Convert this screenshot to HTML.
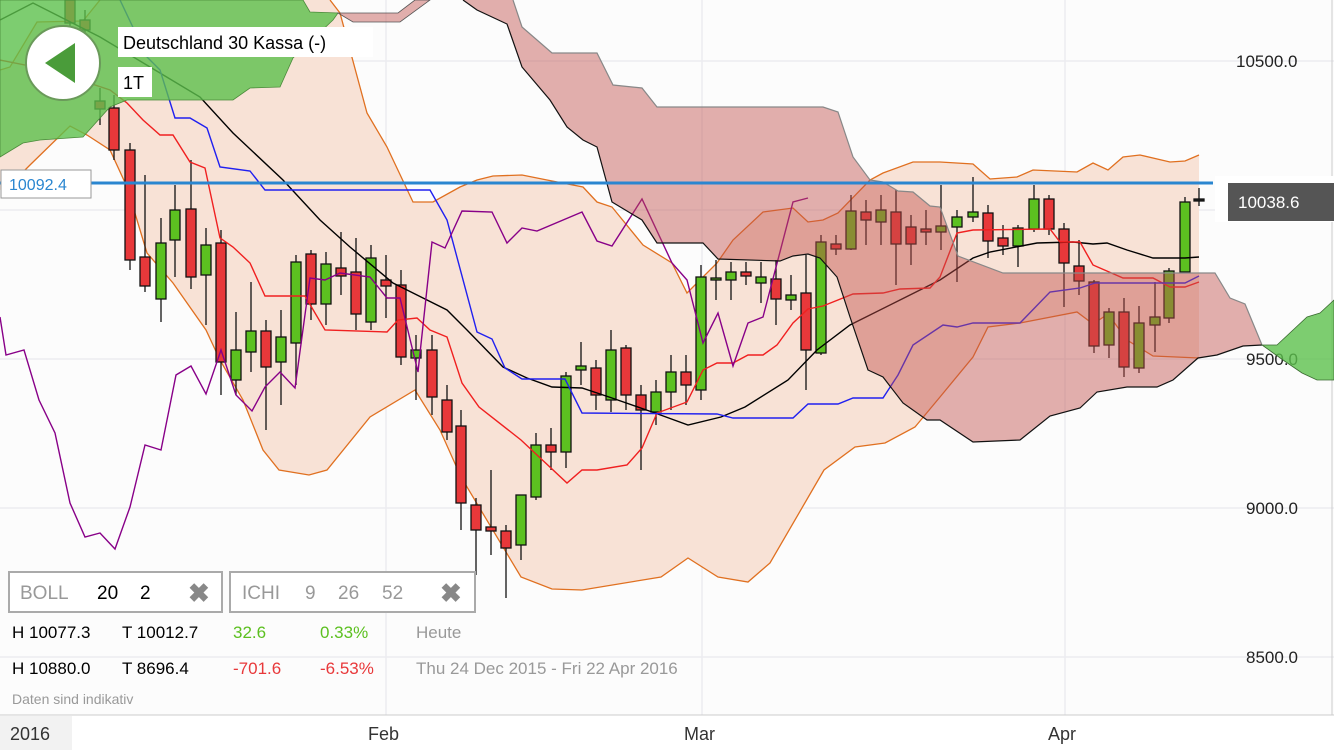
<!DOCTYPE html>
<html><head><meta charset="utf-8"><style>
body{margin:0;background:#fff;font-family:"Liberation Sans",sans-serif}
svg{display:block}
text{font-family:"Liberation Sans",sans-serif}
</style></head><body>
<svg width="1334" height="750" viewBox="0 0 1334 750">
<rect width="1334" height="750" fill="#fcfcfc"/>
<g stroke="#ececf0" stroke-width="1.5">
<line x1="0" y1="61" x2="1334" y2="61"/><line x1="0" y1="210" x2="1334" y2="210"/><line x1="0" y1="359" x2="1334" y2="359"/><line x1="0" y1="508" x2="1334" y2="508"/><line x1="0" y1="657" x2="1334" y2="657"/>
<line x1="386" y1="0" x2="386" y2="715"/><line x1="702" y1="0" x2="702" y2="715"/><line x1="1065" y1="0" x2="1065" y2="715"/>
</g>
<!-- bollinger -->
<polygon fill="#f8e2d6" points="0,70 10,67 37,22 83,21 100,0 330,0 340,13 367,113 387,147 413,202 433,202 460,187 477,180 493,176 522,175 547,180 583,187 597,202 612,207 643,245 672,263 687,293 717,263 733,240 763,212 793,208 808,222 823,220 838,213 870,180 883,173 913,162 940,162 973,164 990,179 1017,177 1033,170 1077,172 1093,163 1108,170 1123,157 1140,155 1170,162 1185,161 1199,155 1199,358 1153,356 1127,340 1108,314 1093,324 1077,312 1020,323 988,327 973,357 940,397 915,427 885,443 855,447 824,470 770,563 748,582 718,577 688,558 661,577 582,590 552,589 521,577 461,477 440,430 415,390 370,417 327,470 309,475 279,470 263,450 243,400 220,360 206,330 173,283 147,253 127,187 110,150 87,135 70,126 30,165 10,185 0,190"/>
<g fill="none" stroke="#e07020" stroke-width="1.3">
<polyline points="0,70 10,67 37,22 83,21 100,0"/>
<polyline points="330,0 340,13 367,113 387,147 413,202 433,202 460,187 477,180 493,176 522,175 547,180 583,187 597,202 612,207 643,245 672,263 687,293 717,263 733,240 763,212 793,208 808,222 823,220 838,213 870,180 883,173 913,162 940,162 973,164 990,179 1017,177 1033,170 1077,172 1093,163 1108,170 1123,157 1140,155 1170,162 1185,161 1199,155"/>
<polyline points="10,185 30,165 70,126 87,135 110,150 127,187 147,253 173,283 206,330 220,360 243,400 263,450 279,470 309,475 327,470 370,417 415,390 440,430 461,477 521,577 552,589 582,590 661,577 688,558 718,577 748,582 770,563 824,470 855,447 885,443 915,427 940,397 973,357 988,327 1020,323 1077,312 1093,324 1108,314 1127,340 1153,356 1199,358"/>
</g>
<!-- candles -->
<g stroke="#111" stroke-width="1.3">
<line x1="70" x2="70" y1="0" y2="40"/><rect x="65" y="0" width="10" height="23" fill="#e8383a"/>
<line x1="85" x2="85" y1="10" y2="45"/><rect x="80" y="20" width="10" height="10" fill="#e8383a"/>
<line x1="100" x2="100" y1="88" y2="125"/><rect x="95" y="101" width="10" height="8" fill="#e8383a"/>
<line x1="114" x2="114" y1="95" y2="160"/><rect x="109" y="108" width="10" height="42" fill="#e8383a"/>
<line x1="130" x2="130" y1="143" y2="270"/><rect x="125" y="150" width="10" height="110" fill="#e8383a"/>
<line x1="145" x2="145" y1="175" y2="292"/><rect x="140" y="257" width="10" height="29" fill="#e8383a"/>
<line x1="161" x2="161" y1="218" y2="322"/><rect x="156" y="243" width="10" height="56" fill="#5cc020"/>
<line x1="175" x2="175" y1="185" y2="277"/><rect x="170" y="210" width="10" height="30" fill="#5cc020"/>
<line x1="191" x2="191" y1="160" y2="289"/><rect x="186" y="209" width="10" height="68" fill="#e8383a"/>
<line x1="206" x2="206" y1="228" y2="325"/><rect x="201" y="245" width="10" height="30" fill="#5cc020"/>
<line x1="221" x2="221" y1="230" y2="395"/><rect x="216" y="243" width="10" height="119" fill="#e8383a"/>
<line x1="236" x2="236" y1="312" y2="395"/><rect x="231" y="350" width="10" height="30" fill="#5cc020"/>
<line x1="251" x2="251" y1="282" y2="372"/><rect x="246" y="331" width="10" height="21" fill="#5cc020"/>
<line x1="266" x2="266" y1="320" y2="430"/><rect x="261" y="331" width="10" height="36" fill="#e8383a"/>
<line x1="281" x2="281" y1="310" y2="405"/><rect x="276" y="337" width="10" height="25" fill="#5cc020"/>
<line x1="296" x2="296" y1="255" y2="385"/><rect x="291" y="262" width="10" height="81" fill="#5cc020"/>
<line x1="311" x2="311" y1="250" y2="320"/><rect x="306" y="254" width="10" height="50" fill="#e8383a"/>
<line x1="326" x2="326" y1="252" y2="325"/><rect x="321" y="264" width="10" height="40" fill="#5cc020"/>
<line x1="341" x2="341" y1="232" y2="295"/><rect x="336" y="268" width="10" height="8" fill="#e8383a"/>
<line x1="356" x2="356" y1="238" y2="330"/><rect x="351" y="272" width="10" height="42" fill="#e8383a"/>
<line x1="371" x2="371" y1="245" y2="330"/><rect x="366" y="258" width="10" height="64" fill="#5cc020"/>
<line x1="386" x2="386" y1="255" y2="318"/><rect x="381" y="280" width="10" height="6" fill="#e8383a"/>
<line x1="401" x2="401" y1="270" y2="365"/><rect x="396" y="285" width="10" height="72" fill="#e8383a"/>
<line x1="416" x2="416" y1="335" y2="400"/><rect x="411" y="350" width="10" height="8" fill="#5cc020"/>
<line x1="432" x2="432" y1="335" y2="415"/><rect x="427" y="350" width="10" height="47" fill="#e8383a"/>
<line x1="447" x2="447" y1="385" y2="440"/><rect x="442" y="400" width="10" height="32" fill="#e8383a"/>
<line x1="461" x2="461" y1="410" y2="530"/><rect x="456" y="426" width="10" height="77" fill="#e8383a"/>
<line x1="476" x2="476" y1="498" y2="575"/><rect x="471" y="505" width="10" height="25" fill="#e8383a"/>
<line x1="491" x2="491" y1="470" y2="555"/><rect x="486" y="527" width="10" height="4" fill="#e8383a"/>
<line x1="506" x2="506" y1="525" y2="598"/><rect x="501" y="531" width="10" height="17" fill="#e8383a"/>
<line x1="521" x2="521" y1="508" y2="560"/><rect x="516" y="495" width="10" height="50" fill="#5cc020"/>
<line x1="536" x2="536" y1="433" y2="500"/><rect x="531" y="445" width="10" height="52" fill="#5cc020"/>
<line x1="551" x2="551" y1="428" y2="470"/><rect x="546" y="445" width="10" height="7" fill="#e8383a"/>
<line x1="566" x2="566" y1="372" y2="468"/><rect x="561" y="376" width="10" height="76" fill="#5cc020"/>
<line x1="581" x2="581" y1="342" y2="385"/><rect x="576" y="366" width="10" height="4" fill="#5cc020"/>
<line x1="596" x2="596" y1="360" y2="410"/><rect x="591" y="368" width="10" height="27" fill="#e8383a"/>
<line x1="611" x2="611" y1="330" y2="412"/><rect x="606" y="350" width="10" height="50" fill="#5cc020"/>
<line x1="626" x2="626" y1="345" y2="410"/><rect x="621" y="348" width="10" height="47" fill="#e8383a"/>
<line x1="641" x2="641" y1="385" y2="470"/><rect x="636" y="395" width="10" height="15" fill="#e8383a"/>
<line x1="656" x2="656" y1="380" y2="425"/><rect x="651" y="392" width="10" height="20" fill="#5cc020"/>
<line x1="671" x2="671" y1="355" y2="410"/><rect x="666" y="372" width="10" height="20" fill="#5cc020"/>
<line x1="686" x2="686" y1="355" y2="405"/><rect x="681" y="372" width="10" height="13" fill="#e8383a"/>
<line x1="701" x2="701" y1="265" y2="400"/><rect x="696" y="277" width="10" height="113" fill="#5cc020"/>
<line x1="716" x2="716" y1="260" y2="300"/><rect x="711" y="278" width="10" height="2" fill="#5cc020"/>
<line x1="731" x2="731" y1="262" y2="300"/><rect x="726" y="272" width="10" height="8" fill="#5cc020"/>
<line x1="746" x2="746" y1="262" y2="285"/><rect x="741" y="272" width="10" height="4" fill="#e8383a"/>
<line x1="761" x2="761" y1="262" y2="303"/><rect x="756" y="277" width="10" height="6" fill="#5cc020"/>
<line x1="776" x2="776" y1="260" y2="325"/><rect x="771" y="279" width="10" height="20" fill="#e8383a"/>
<line x1="791" x2="791" y1="275" y2="310"/><rect x="786" y="295" width="10" height="5" fill="#5cc020"/>
<line x1="806" x2="806" y1="255" y2="390"/><rect x="801" y="293" width="10" height="57" fill="#e8383a"/>
<line x1="821" x2="821" y1="235" y2="355"/><rect x="816" y="242" width="10" height="111" fill="#5cc020"/>
<line x1="836" x2="836" y1="235" y2="255"/><rect x="831" y="244" width="10" height="5" fill="#e8383a"/>
<line x1="851" x2="851" y1="195" y2="250"/><rect x="846" y="211" width="10" height="38" fill="#5cc020"/>
<line x1="866" x2="866" y1="200" y2="245"/><rect x="861" y="212" width="10" height="8" fill="#e8383a"/>
<line x1="881" x2="881" y1="195" y2="245"/><rect x="876" y="210" width="10" height="12" fill="#5cc020"/>
<line x1="896" x2="896" y1="190" y2="285"/><rect x="891" y="212" width="10" height="32" fill="#e8383a"/>
<line x1="911" x2="911" y1="215" y2="265"/><rect x="906" y="227" width="10" height="17" fill="#e8383a"/>
<line x1="926" x2="926" y1="210" y2="245"/><rect x="921" y="229" width="10" height="3" fill="#e8383a"/>
<line x1="941" x2="941" y1="185" y2="250"/><rect x="936" y="226" width="10" height="6" fill="#5cc020"/>
<line x1="957" x2="957" y1="210" y2="282"/><rect x="952" y="217" width="10" height="10" fill="#5cc020"/>
<line x1="973" x2="973" y1="177" y2="222"/><rect x="968" y="212" width="10" height="5" fill="#5cc020"/>
<line x1="988" x2="988" y1="205" y2="258"/><rect x="983" y="213" width="10" height="28" fill="#e8383a"/>
<line x1="1003" x2="1003" y1="225" y2="255"/><rect x="998" y="238" width="10" height="8" fill="#e8383a"/>
<line x1="1018" x2="1018" y1="225" y2="267"/><rect x="1013" y="228" width="10" height="18" fill="#5cc020"/>
<line x1="1034" x2="1034" y1="185" y2="232"/><rect x="1029" y="199" width="10" height="30" fill="#5cc020"/>
<line x1="1049" x2="1049" y1="195" y2="235"/><rect x="1044" y="199" width="10" height="30" fill="#e8383a"/>
<line x1="1064" x2="1064" y1="223" y2="307"/><rect x="1059" y="229" width="10" height="34" fill="#e8383a"/>
<line x1="1079" x2="1079" y1="240" y2="295"/><rect x="1074" y="266" width="10" height="15" fill="#e8383a"/>
<line x1="1094" x2="1094" y1="280" y2="353"/><rect x="1089" y="282" width="10" height="64" fill="#e8383a"/>
<line x1="1109" x2="1109" y1="308" y2="358"/><rect x="1104" y="312" width="10" height="33" fill="#5cc020"/>
<line x1="1124" x2="1124" y1="298" y2="377"/><rect x="1119" y="312" width="10" height="55" fill="#e8383a"/>
<line x1="1139" x2="1139" y1="306" y2="373"/><rect x="1134" y="323" width="10" height="45" fill="#5cc020"/>
<line x1="1155" x2="1155" y1="282" y2="352"/><rect x="1150" y="317" width="10" height="8" fill="#5cc020"/>
<line x1="1169" x2="1169" y1="268" y2="323"/><rect x="1164" y="271" width="10" height="47" fill="#5cc020"/>
<line x1="1185" x2="1185" y1="197" y2="272"/><rect x="1180" y="202" width="10" height="70" fill="#5cc020"/>
<line x1="1199" x2="1199" y1="188" y2="206"/><rect x="1194" y="199" width="10" height="2" fill="#222"/>
</g>
<!-- ichimoku lines -->
<g fill="none" stroke-width="1.4">
<polyline stroke="#000" points="0,20 33,3 100,37 150,67 200,97 233,133 283,180 320,220 350,247 393,283 413,293 447,310 467,330 503,367 527,378 552,387 582,388 612,398 655,413 688,425 721,417 745,407 788,380 817,350 850,325 900,300 940,280 973,258 990,252 1037,243 1073,242 1093,244 1107,243 1127,250 1153,258 1185,258 1199,257"/>
<polyline stroke="#f02020" points="0,60 50,70 110,90 127,103 143,120 160,135 173,135 190,162 205,168 220,238 233,247 250,263 265,296 305,296 325,330 387,332 398,320 417,318 430,330 447,337 462,383 479,407 521,440 567,483 582,470 597,470 627,465 642,448 657,413 687,402 703,370 717,363 733,363 748,355 763,355 777,345 793,323 808,309 823,306 853,294 883,293 900,289 930,288 940,277 957,233 973,230 1050,229 1060,242 1080,242 1093,265 1123,278 1153,278 1170,287 1185,287 1199,282"/>
<polyline stroke="#2020f0" points="120,0 147,57 160,70 175,118 190,118 207,128 220,167 250,171 265,190 430,190 447,220 477,332 492,339 505,368 522,379 565,379 582,413 717,414 733,418 793,418 808,404 838,404 853,398 883,398 898,375 913,345 943,325 957,327 973,323 1020,323 1050,292 1080,288 1095,283 1185,283 1199,276"/>
<polyline stroke="#880088" points="0,317 6,355 24,350 39,400 55,433 70,503 85,537 100,533 115,549 130,507 145,445 161,450 176,375 191,366 206,394 221,350 236,395 252,411 265,387 280,372 295,388 310,278 325,280 340,273 370,277 387,298 400,298 418,372 432,242 445,248 462,211 492,212 507,243 522,228 537,231 582,212 597,241 612,246 642,199 672,263 687,280 703,343 718,313 733,366 748,323 763,317 793,202 808,198"/>
</g>
<!-- clouds (on top) -->
<polygon fill="#5cc04c" fill-opacity="0.8" stroke="#4a8a3a" stroke-width="0.8" points="0,0 303,0 310,12 338,13 333,20 293,58 280,87 250,88 233,100 127,100 110,107 83,137 40,140 23,143 0,157"/>
<polygon fill="#c0504c" fill-opacity="0.45" stroke="#555" stroke-width="0.8" points="338,13 353,22 400,22 430,0 415,0 398,13 355,13"/>
<polygon fill="#c0504c" fill-opacity="0.45" points="513,0 522,27 552,53 597,53 613,85 642,88 657,107 823,107 838,112 853,157 870,180 883,182 898,191 913,192 930,206 940,207 958,256 1003,273 1215,273 1230,298 1245,304 1262,345 1243,346 1217,355 1198,358 1173,380 1157,387 1127,387 1097,392 1080,408 1050,416 1020,440 973,442 940,420 927,420 903,403 883,377 868,370 850,317 837,277 820,258 808,254 793,256 780,261 718,259 703,243 657,243 642,220 612,202 597,147 583,140 567,127 550,100 522,67 507,24 477,10 463,0"/>
<polyline fill="none" stroke="#888" stroke-width="1.2" points="513,0 522,27 552,53 597,53 613,85 642,88 657,107 823,107 838,112 853,157 870,180 883,182 898,191 913,192 930,206 940,207 958,256 1003,273 1215,273 1230,298 1245,304 1262,345"/>
<polyline fill="none" stroke="#111" stroke-width="1.2" points="463,0 477,10 507,24 522,67 550,100 567,127 583,140 597,147 612,202 642,220 657,243 703,243 718,259 780,261 793,256 808,254 820,258 837,277 850,317 868,370 883,377 903,403 927,420 940,420 973,442 1020,440 1050,416 1080,408 1097,392 1127,387 1157,387 1173,380 1198,358 1217,355 1243,346 1262,345"/>
<!-- horizontal line -->
<line x1="0" y1="183" x2="1213" y2="183" stroke="#2a86d0" stroke-width="3"/>
<rect x="1" y="170" width="90" height="28" fill="#fff" stroke="#999"/>
<text x="9" y="190" font-size="16" fill="#2a86d0">10092.4</text>
<!-- right axis labels -->
<line x1="1332" y1="0" x2="1332" y2="715" stroke="#ccc"/>
<g font-size="17" fill="#222"><text x="1236" y="67">10500.0</text><text x="1246" y="365">9500.0</text><text x="1246" y="514">9000.0</text><text x="1246" y="663">8500.0</text></g>
<polygon fill="#5cc04c" fill-opacity="0.8" stroke="#3a6a30" stroke-width="0.8" points="1262,345 1277,345 1307,317 1320,313 1334,300 1334,380 1317,380 1302,373 1283,360"/>
<rect x="1215" y="176" width="119" height="46" fill="#fff"/>
<rect x="1228" y="183" width="106" height="38" fill="#555"/>
<text x="1238" y="208" font-size="17" fill="#fff">10038.6</text>
<!-- bottom axis -->
<rect x="0" y="715" width="1334" height="35" fill="#fff"/>
<line x1="0" y1="715" x2="1334" y2="715" stroke="#ccc"/>
<rect x="0" y="716" width="72" height="34" fill="#f2f2f2"/>
<g font-size="18" fill="#333"><text x="10" y="740">2016</text><text x="368" y="740">Feb</text><text x="684" y="740">Mar</text><text x="1048" y="740">Apr</text></g>
<!-- title -->
<circle cx="63" cy="63" r="37" fill="#fff" stroke="#6a9a5a" stroke-width="2"/>
<polygon points="45,63 75,43 75,83" fill="#4a9c3a"/>
<rect x="118" y="27" width="255" height="30" fill="#fff"/>
<text x="123" y="49" font-size="18" fill="#000">Deutschland 30 Kassa (-)</text>
<rect x="118" y="67" width="34" height="30" fill="#fff"/>
<text x="123" y="89" font-size="18" fill="#000">1T</text>
<!-- panel -->
<rect x="9" y="572" width="213" height="40" fill="#fff" stroke="#aaa" stroke-width="2"/>
<text x="20" y="599" font-size="19" fill="#999">BOLL</text><text x="97" y="599" font-size="19" fill="#000">20</text><text x="140" y="599" font-size="19" fill="#000">2</text>
<text x="188" y="602" font-size="26" fill="#888" font-weight="bold">✖</text>
<rect x="230" y="572" width="245" height="40" fill="#fff" stroke="#aaa" stroke-width="2"/>
<text x="242" y="599" font-size="19" fill="#999">ICHI</text><text x="305" y="599" font-size="19" fill="#999">9</text><text x="338" y="599" font-size="19" fill="#999">26</text><text x="382" y="599" font-size="19" fill="#999">52</text>
<text x="440" y="602" font-size="26" fill="#888" font-weight="bold">✖</text>
<g font-size="17">
<text x="12" y="638" fill="#000">H 10077.3</text><text x="122" y="638" fill="#000">T 10012.7</text><text x="233" y="638" fill="#5cc020">32.6</text><text x="320" y="638" fill="#5cc020">0.33%</text><text x="416" y="638" fill="#999">Heute</text>
<text x="12" y="674" fill="#000">H 10880.0</text><text x="122" y="674" fill="#000">T 8696.4</text><text x="233" y="674" fill="#e8383a">-701.6</text><text x="320" y="674" fill="#e8383a">-6.53%</text><text x="416" y="674" fill="#999">Thu 24 Dec 2015 - Fri 22 Apr 2016</text>
</g>
<text x="12" y="704" font-size="14" fill="#999">Daten sind indikativ</text>
</svg>
</body></html>
